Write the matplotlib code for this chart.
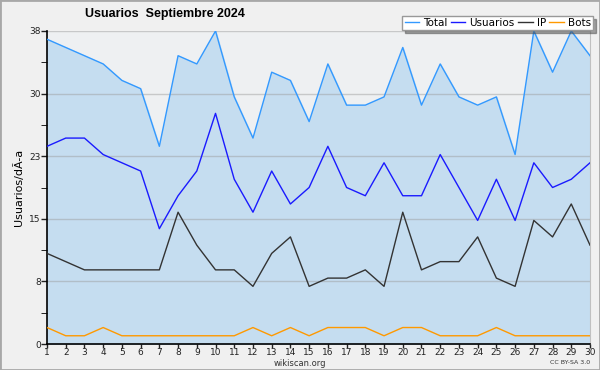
import numpy as np
import matplotlib.pyplot as plt
from matplotlib.patches import Rectangle

days = list(range(1, 31))
total = [37, 36, 35, 34, 32, 31, 24, 35, 34, 38, 30, 25, 33, 32, 27,
         34, 29, 29, 30, 36, 29, 34, 30, 29, 30, 23, 38, 33, 38, 35]
usuarios = [24, 25, 25, 23, 22, 21, 14, 18, 21, 28, 20, 16, 21, 17, 19,
            24, 19, 18, 22, 18, 18, 23, 19, 15, 20, 15, 22, 19, 20, 22]
ip = [11, 10, 9, 9, 9, 9, 9, 16, 12, 9, 9, 7, 11, 13, 7,
      8, 8, 9, 7, 16, 9, 10, 10, 13, 8, 7, 15, 13, 17, 12]
bots = [2, 1, 1, 2, 1, 1, 1, 1, 1, 1, 1, 2, 1, 2, 1,
        2, 2, 2, 1, 2, 2, 1, 1, 1, 2, 1, 1, 1, 1, 1]
ymax = 38

fig = plt.figure(figsize=(6, 3.7), dpi=100, facecolor='#f0f0f0')
fig.patches.append(Rectangle((0, 0), 1, 1, transform=fig.transFigure,
                             fill=False, edgecolor='#a8a8a8', lw=2))
ax = fig.add_axes([47/600, 1-344/370, 543/600, 313/370])
ax.set_facecolor('#eef0f2')

ax.fill_between(days, total, 0, color='#c5ddf0', zorder=1)
major = [ymax*k/5 for k in range(6)]
for v in major[1:]:
    ax.axhline(v, color='#999999', alpha=0.45, lw=1, zorder=2)
l1, = ax.plot(days, total, color='#3399ff', lw=1, zorder=3)
l2, = ax.plot(days, usuarios, color='#1a1aff', lw=1, zorder=3)
l3, = ax.plot(days, ip, color='#333333', lw=1, zorder=3)
l4, = ax.plot(days, bots, color='#ff9900', lw=1, zorder=3)

ax.set_xlim(1, 30)
ax.set_ylim(0, ymax)
ax.set_xticks(days)
ax.set_xticklabels([str(d) for d in days])
ax.set_yticks(major)
ax.set_yticklabels([str(int(round(v))) for v in major])
ax.set_yticks([ymax*k/10 for k in range(1, 10, 2)], minor=True)
ax.tick_params(axis='both', labelsize=6.5, length=4, width=1, pad=0.5, colors='#222222')
ax.tick_params(axis='x', length=3, pad=0)
ax.tick_params(axis='y', which='minor', length=4)
ax.spines['top'].set_visible(False)
ax.spines['right'].set_color('#c0c0c0')
ax.spines['left'].set_linewidth(1.2)
ax.spines['bottom'].set_linewidth(1.2)

ax.set_ylabel('Usuarios/dÃ-a', fontsize=8, labelpad=4)
fig.text(85/600, 1-14/370, 'Usuarios  Septiembre 2024', fontsize=9,
         family='Liberation Sans', fontweight='bold', va='center', ha='left')
fig.text(300/600, 1-364/370, 'wikiscan.org', fontsize=6, ha='center', va='center',
         color='#333333')
fig.text(590/600, 1-363/370, 'CC BY-SA 3.0', fontsize=4.5, ha='right', va='center',
         color='#333333')

leg = ax.legend([l1, l2, l3, l4], ['Total', 'Usuarios', 'IP', 'Bots'],
                ncol=4, loc='upper right', bbox_to_anchor=(593/600, 1-16/370),
                bbox_transform=fig.transFigure, fontsize=7.5, frameon=True,
                fancybox=False, shadow=True, handlelength=1.4, handletextpad=0.4,
                columnspacing=0.3, borderpad=0.2, borderaxespad=0)
leg.get_frame().set_edgecolor('#999999')
leg.get_frame().set_linewidth(1)
leg.set_zorder(5)

fig.savefig('out.png', dpi=100, facecolor=fig.get_facecolor())
